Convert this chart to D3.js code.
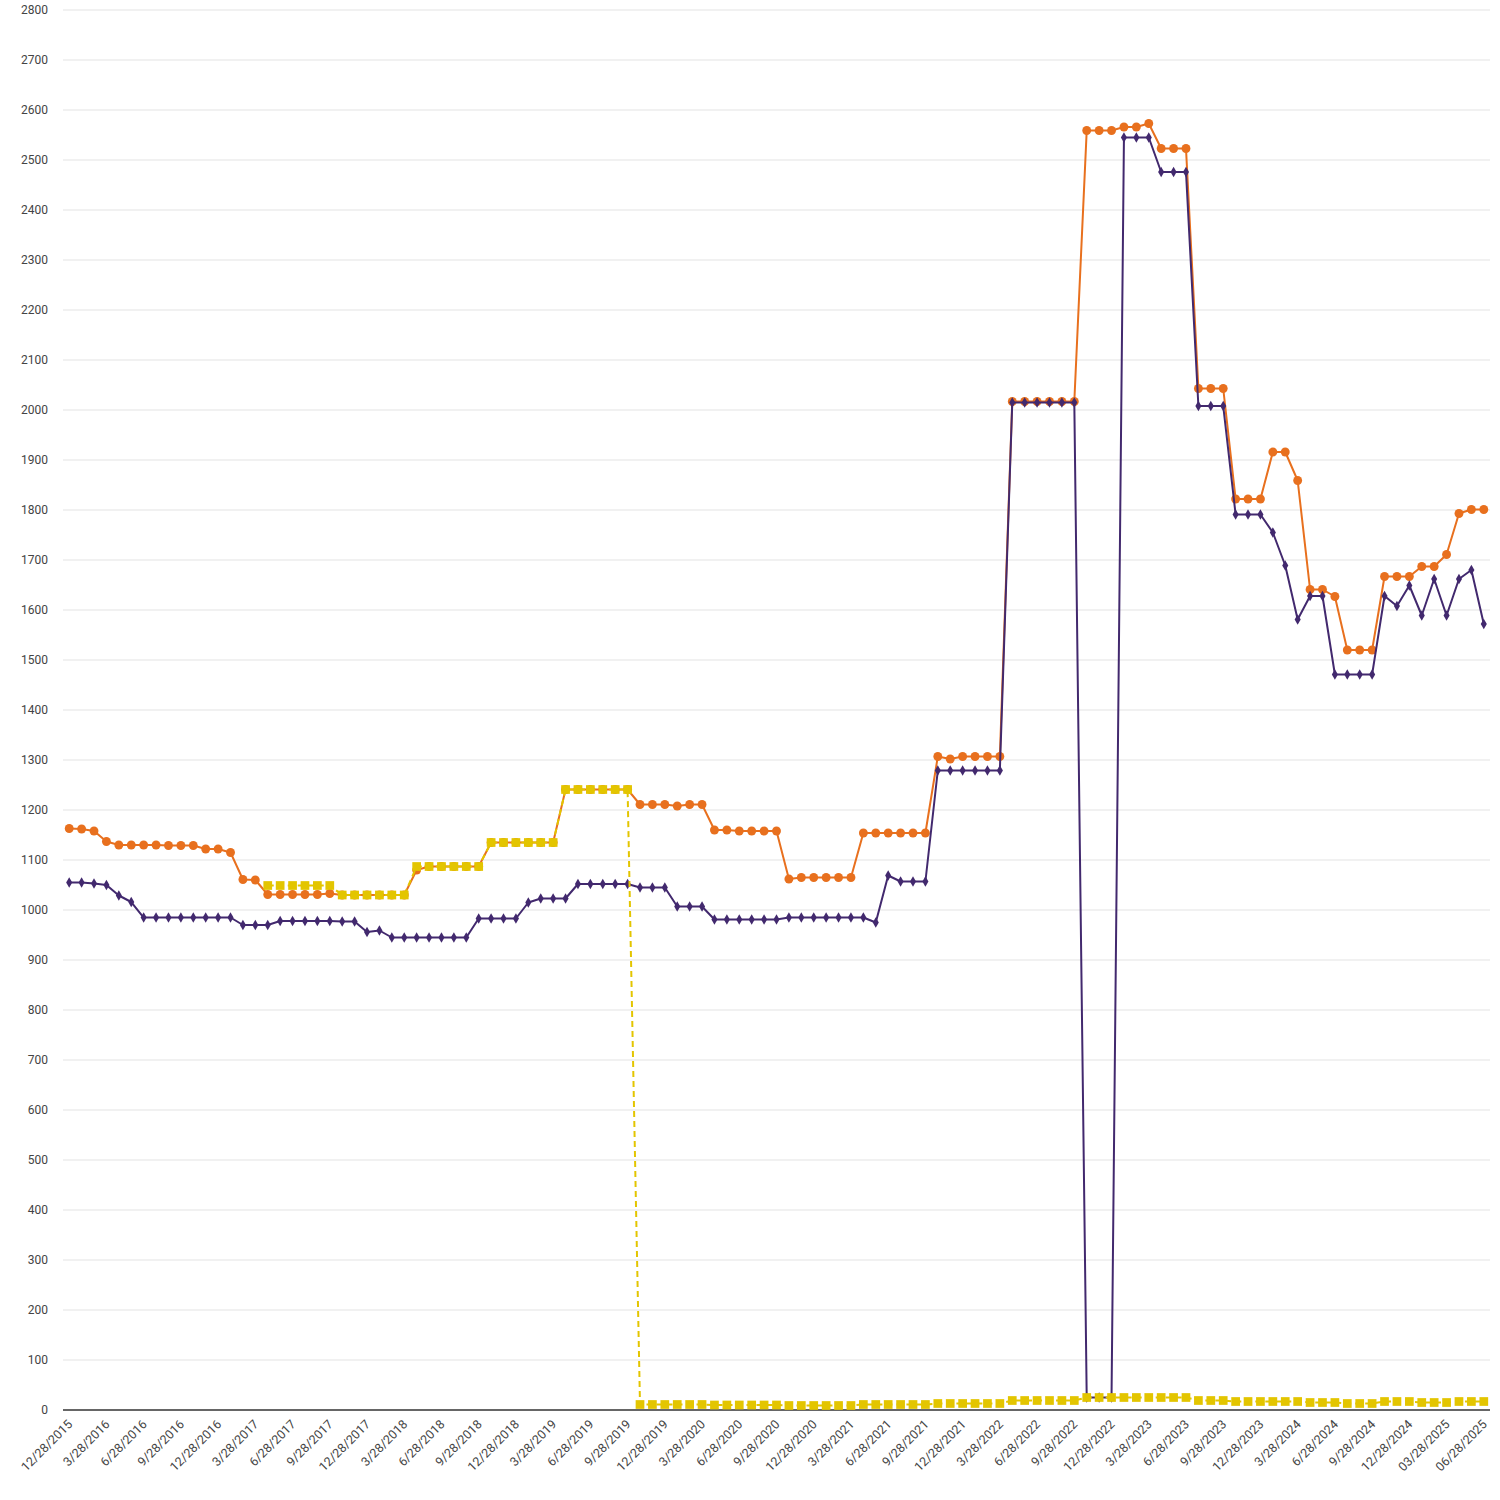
<!DOCTYPE html>
<html><head><meta charset="utf-8">
<script src="https://cdn.jsdelivr.net/npm/d3@7"></script>
<style>body{margin:0;background:#fff;} svg{display:block;font-family:Roboto,"Liberation Sans",Arial,sans-serif;}</style>
</head><body>
<svg id="c" width="1500" height="1500"></svg>
<script>
const categories = [
"12/28/2015","1/28/2016","2/28/2016","3/28/2016","4/28/2016","5/28/2016","6/28/2016","7/28/2016","8/28/2016","9/28/2016","10/28/2016","11/28/2016",
"12/28/2016","1/28/2017","2/28/2017","3/28/2017","4/28/2017","5/28/2017","6/28/2017","7/28/2017","8/28/2017","9/28/2017","10/28/2017","11/28/2017",
"12/28/2017","1/28/2018","2/28/2018","3/28/2018","4/28/2018","5/28/2018","6/28/2018","7/28/2018","8/28/2018","9/28/2018","10/28/2018","11/28/2018",
"12/28/2018","1/28/2019","2/28/2019","3/28/2019","4/28/2019","5/28/2019","6/28/2019","7/28/2019","8/28/2019","9/28/2019","10/28/2019","11/28/2019",
"12/28/2019","1/28/2020","2/28/2020","3/28/2020","4/28/2020","5/28/2020","6/28/2020","7/28/2020","8/28/2020","9/28/2020","10/28/2020","11/28/2020",
"12/28/2020","1/28/2021","2/28/2021","3/28/2021","4/28/2021","5/28/2021","6/28/2021","7/28/2021","8/28/2021","9/28/2021","10/28/2021","11/28/2021",
"12/28/2021","1/28/2022","2/28/2022","3/28/2022","4/28/2022","5/28/2022","6/28/2022","7/28/2022","8/28/2022","9/28/2022","10/28/2022","11/28/2022",
"12/28/2022","1/28/2023","2/28/2023","3/28/2023","4/28/2023","5/28/2023","6/28/2023","7/28/2023","8/28/2023","9/28/2023","10/28/2023","11/28/2023",
"12/28/2023","1/28/2024","2/28/2024","3/28/2024","4/28/2024","5/28/2024","6/28/2024","7/28/2024","8/28/2024","9/28/2024","10/28/2024","11/28/2024",
"12/28/2024","01/28/2025","02/28/2025","03/28/2025","04/28/2025","05/28/2025","06/28/2025"
];

const tickLabels = [
"12/28/2015","3/28/2016","6/28/2016","9/28/2016","12/28/2016","3/28/2017","6/28/2017","9/28/2017","12/28/2017",
"3/28/2018","6/28/2018","9/28/2018","12/28/2018","3/28/2019","6/28/2019","9/28/2019","12/28/2019",
"3/28/2020","6/28/2020","9/28/2020","12/28/2020","3/28/2021","6/28/2021","9/28/2021","12/28/2021",
"3/28/2022","6/28/2022","9/28/2022","12/28/2022","3/28/2023","6/28/2023","9/28/2023","12/28/2023",
"3/28/2024","6/28/2024","9/28/2024","12/28/2024","03/28/2025","06/28/2025"
];

const yTicks = [0,100,200,300,400,500,600,700,800,900,1000,1100,1200,1300,1400,1500,1600,1700,1800,1900,2000,2100,2200,2300,2400,2500,2600,2700,2800];

const orangeValues = [
1163,1162,1158,1137,1130,1130,1130,1130,1129,1129,1129,1122,
1122,1115,1061,1060,1031,1031,1031,1031,1031,1033,1030,1030,
1030,1030,1030,1030,1080,1087,1087,1087,1087,1087,1135,1135,
1135,1135,1135,1135,1241,1241,1241,1241,1241,1241,1211,1211,
1211,1208,1211,1211,1160,1160,1158,1158,1158,1158,1062,1065,
1065,1065,1065,1065,1154,1154,1154,1154,1154,1154,1307,1302,
1307,1307,1307,1307,2017,2017,2017,2017,2017,2017,2559,2559,
2559,2566,2566,2573,2523,2523,2523,2043,2043,2043,1822,1822,
1822,1916,1916,1859,1641,1641,1627,1520,1520,1520,1667,1667,
1667,1687,1687,1711,1793,1801,1801
];

const purpleValues = [
1055,1055,1053,1050,1029,1016,985,985,985,985,985,985,
985,985,970,970,970,978,978,978,978,978,977,977,
956,959,945,945,945,945,945,945,945,983,983,983,
983,1015,1023,1023,1023,1052,1052,1052,1052,1052,1045,1045,
1045,1007,1007,1007,981,981,981,981,981,981,985,985,
985,985,985,985,985,975,1069,1057,1057,1057,1279,1279,
1279,1279,1279,1279,2015,2015,2015,2015,2015,2015,25,25,
25,2545,2545,2545,2476,2476,2476,2008,2008,2008,1791,1791,
1791,1755,1689,1581,1628,1628,1471,1471,1471,1471,1628,1608,
1649,1589,1662,1589,1662,1680,1572
];

const yellowValues = [
null,null,null,null,null,null,null,null,null,null,null,null,
null,null,null,null,1049,1049,1049,1049,1049,1049,1030,1030,
1030,1030,1030,1030,1087,1087,1087,1087,1087,1087,1135,1135,
1135,1135,1135,1135,1241,1241,1241,1241,1241,1241,11,11,
11,11,11,11,10,10,10,10,10,10,9,9,
9,9,9,9,11,11,11,11,11,11,13,13,
13,13,13,13,19,19,19,19,19,19,25,25,
25,25,25,25,25,25,25,19,19,19,17,17,
17,17,17,17,15,15,15,13,13,13,17,17,
17,15,15,15,17,17,17
];

const svg = d3.select("#c");
const x = d3.scalePoint().domain(categories).range([63, 1490]).padding(0.5);
const y = d3.scaleLinear().domain([0, 2800]).range([1410, 10]);

// grid
svg.append("g").selectAll("line").data(yTicks.filter(d => d > 0)).join("line")
  .attr("x1", 63).attr("x2", 1490)
  .attr("y1", d => y(d)).attr("y2", d => y(d))
  .attr("stroke", "#e3e3e3").attr("stroke-width", 1);

// y labels
svg.append("g").selectAll("text").data(yTicks).join("text")
  .attr("x", 48).attr("y", d => y(d)).attr("dy", "0.35em")
  .attr("text-anchor", "end").attr("font-size", 12).attr("fill", "#444")
  .text(d => d);

// x axis line
svg.append("line").attr("x1", 63).attr("x2", 1490).attr("y1", y(0)).attr("y2", y(0))
  .attr("stroke", "#333").attr("stroke-width", 1.5);

// x labels
const tickIdx = tickLabels.map((t, i) => i * 3);
svg.append("g").selectAll("text").data(tickIdx).join("text")
  .attr("transform", (d) => `translate(${x(categories[d]) + 4},${y(0) + 15}) rotate(-45)`)
  .attr("text-anchor", "end").attr("font-size", 12.5).attr("fill", "#444")
  .text((d, i) => tickLabels[i]);

function series(values, color, dash, symbol, size) {
  const data = values.map((v, i) => ({c: categories[i], v}));
  const line = d3.line().defined(d => d.v != null).x(d => x(d.c)).y(d => y(d.v));
  const g = svg.append("g");
  g.append("path").datum(data).attr("d", line)
    .attr("fill", "none").attr("stroke", color).attr("stroke-width", 2)
    .attr("stroke-dasharray", dash).attr("stroke-linejoin", "round");
  g.selectAll("path.m").data(data.filter(d => d.v != null)).join("path").attr("class", "m")
    .attr("d", d3.symbol().type(symbol).size(size))
    .attr("transform", d => `translate(${x(d.c)},${y(d.v)})`)
    .attr("fill", color);
}

series(orangeValues, "#E8701E", null, d3.symbolCircle, 62);
series(purpleValues, "#42296E", null, d3.symbolDiamond, 32);
series(yellowValues, "#E3C500", "6,4", d3.symbolSquare, 76);
</script>
</body></html>
